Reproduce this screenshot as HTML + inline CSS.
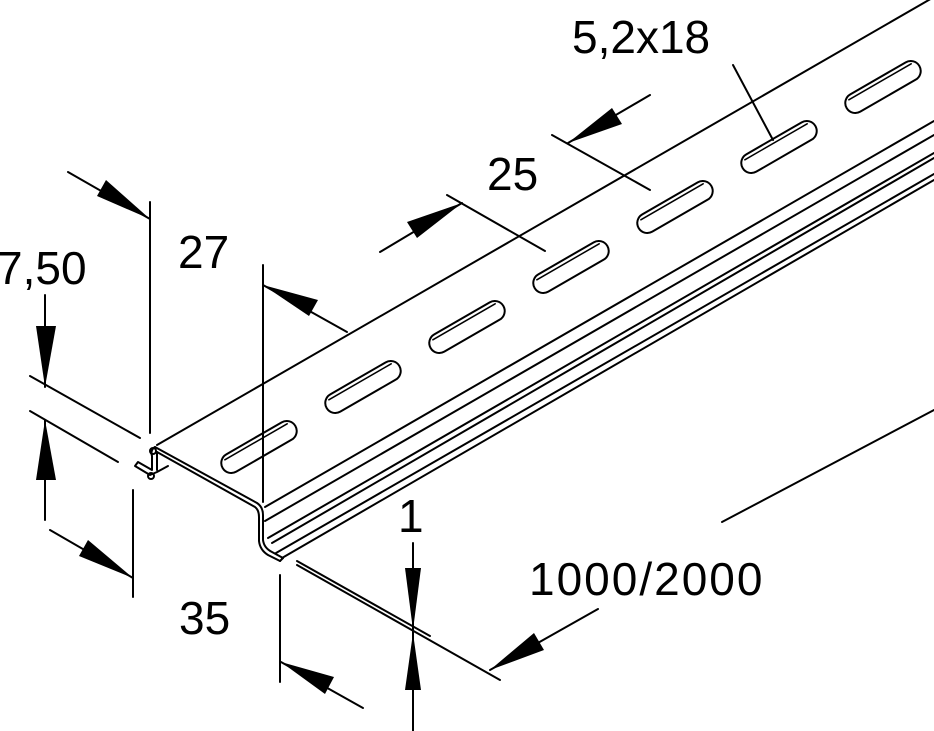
<!DOCTYPE html>
<html><head><meta charset="utf-8"><style>
html,body{margin:0;padding:0;background:#fff;}
svg{display:block}
text{font-family:"Liberation Sans",sans-serif;font-size:46px;fill:#000}
</style></head><body>
<svg width="934" height="731" viewBox="0 0 934 731" xmlns="http://www.w3.org/2000/svg">
<g stroke="#000" stroke-width="2" fill="none" stroke-linecap="round" stroke-linejoin="round">
<line x1="157" y1="445" x2="934" y2="-3"/>
<line x1="265" y1="507" x2="934" y2="121"/>
<line x1="265" y1="521" x2="934" y2="135"/>
<line x1="268" y1="538" x2="934" y2="153"/>
<line x1="272" y1="543" x2="934" y2="158"/>
<line x1="276" y1="553" x2="934" y2="174"/>
<line x1="282" y1="558" x2="934" y2="180"/>
<path d="M155 447 L257 503 Q263 507 263 515 L263 540 Q264 548 272 552 L283 558"/>
<path d="M157 452 L255 507 Q259 510 259 517 L259 541 Q260 550 268 555 L280 561"/>
<line x1="283" y1="558" x2="280" y2="561"/>
<path d="M155 447 Q150 450 152 456 L152 470 L138 462 L135 466 L150 475 L157 472 L168 466"/>
<path d="M157 452 L157 470"/>
<circle cx="153" cy="451" r="3"/>
<circle cx="151" cy="476" r="3"/>
<g>
<g transform="translate(259,447) rotate(-30)"><rect x="-42" y="-10" width="84" height="20" rx="10"/><line x1="-36" y1="-6" x2="36" y2="-6" stroke-width="1.5"/></g>
<g transform="translate(363,387) rotate(-30)"><rect x="-42" y="-10" width="84" height="20" rx="10"/><line x1="-36" y1="-6" x2="36" y2="-6" stroke-width="1.5"/></g>
<g transform="translate(467,327) rotate(-30)"><rect x="-42" y="-10" width="84" height="20" rx="10"/><line x1="-36" y1="-6" x2="36" y2="-6" stroke-width="1.5"/></g>
<g transform="translate(571,267) rotate(-30)"><rect x="-42" y="-10" width="84" height="20" rx="10"/><line x1="-36" y1="-6" x2="36" y2="-6" stroke-width="1.5"/></g>
<g transform="translate(675,207) rotate(-30)"><rect x="-42" y="-10" width="84" height="20" rx="10"/><line x1="-36" y1="-6" x2="36" y2="-6" stroke-width="1.5"/></g>
<g transform="translate(779,147) rotate(-30)"><rect x="-42" y="-10" width="84" height="20" rx="10"/><line x1="-36" y1="-6" x2="36" y2="-6" stroke-width="1.5"/></g>
<g transform="translate(883,87) rotate(-30)"><rect x="-42" y="-10" width="84" height="20" rx="10"/><line x1="-36" y1="-6" x2="36" y2="-6" stroke-width="1.5"/></g>
</g>
<line x1="150" y1="202" x2="150" y2="433"/>
<line x1="68" y1="172" x2="150" y2="219"/>
<line x1="263" y1="265" x2="263" y2="502"/>
<line x1="263" y1="285" x2="347" y2="332"/>
<line x1="45" y1="295" x2="45" y2="387"/>
<line x1="45" y1="420" x2="45" y2="520"/>
<line x1="30" y1="376" x2="140" y2="438"/>
<line x1="30" y1="411" x2="118" y2="462"/>
<line x1="133" y1="490" x2="133" y2="597"/>
<line x1="50" y1="530" x2="133" y2="578"/>
<line x1="280" y1="575" x2="280" y2="682"/>
<line x1="281" y1="662" x2="363" y2="708"/>
<line x1="297" y1="561" x2="430" y2="636"/>
<line x1="297" y1="565" x2="500" y2="680"/>
<line x1="413" y1="543" x2="413" y2="731"/>
<line x1="490" y1="670" x2="598" y2="609"/>
<line x1="722" y1="522" x2="934" y2="410"/>
<line x1="380" y1="252" x2="462" y2="203"/>
<line x1="447" y1="195" x2="545" y2="251"/>
<line x1="552" y1="135" x2="650" y2="190"/>
<line x1="568" y1="143" x2="650" y2="95"/>
<line x1="733" y1="65" x2="773" y2="140"/>
</g>
<g fill="#000">
<polygon points="150,219 97,196 106,180"/>
<polygon points="263,285 318,300 309,316"/>
<polygon points="45,387 36,326 56,326"/>
<polygon points="45,420 36,480 56,480"/>
<polygon points="133,578 79,556 88,540"/>
<polygon points="281,662 334,677 325,694"/>
<polygon points="413,630 405,568 421,568"/>
<polygon points="413,633 405,690 421,690"/>
<polygon points="490,670 534,633 544,650"/>
<polygon points="462,203 417,238 407,222"/>
<polygon points="568,143 612,108 622,124"/>
</g>
<text x="-3" y="284">7,50</text>
<text x="178" y="268">27</text>
<text x="487" y="190">25</text>
<text x="572" y="53">5,2x18</text>
<text x="398" y="532">1</text>
<text x="529" y="595" style="letter-spacing:2px">1000/2000</text>
<text x="179" y="634">35</text>
</svg>
</body></html>
